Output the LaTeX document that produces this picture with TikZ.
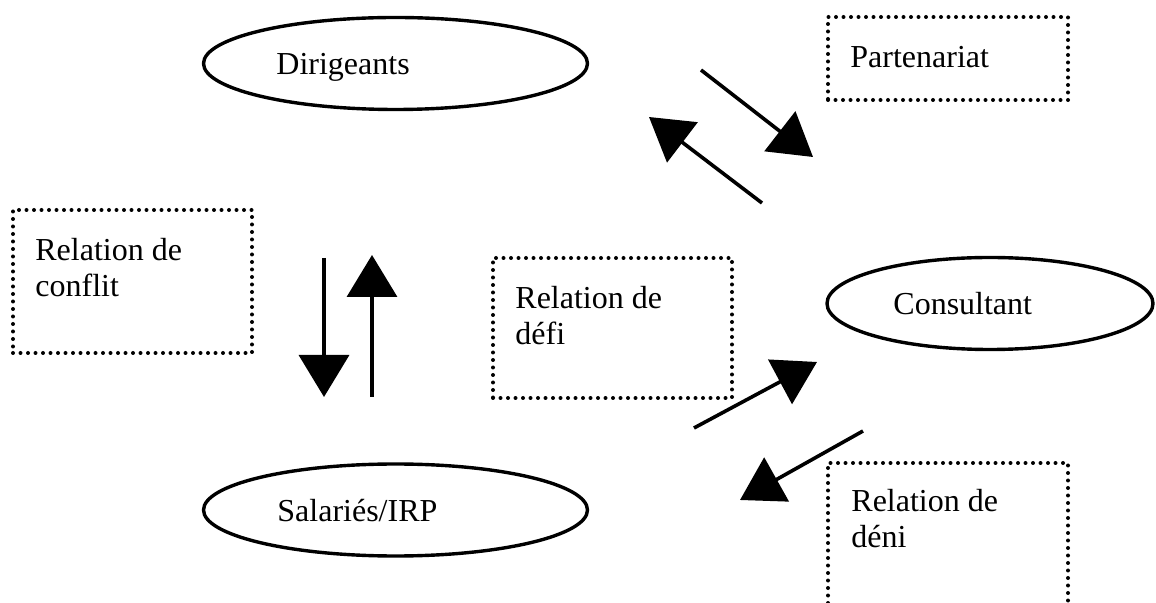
\documentclass[tikz,border=0pt]{standalone}
\usepackage{fontspec}
\setmainfont{Liberation Serif}
\usetikzlibrary{arrows.meta, shapes.geometric}
\tikzset{%
	every actor/.style={
		ellipse,
		draw,
		line width=1.7pt,
		inner sep=0pt
	},
	relation box/.style={
		draw,
		line width=2pt,
		line cap=round,
		dash pattern=on 0pt off 3.75pt,
		inner sep=0pt
	},
	label text/.style={
		anchor=base west,
		inner sep=0pt,
		align=left,
		font=\fontsize{16}{18.3}\selectfont
	},
	big arrow/.style={
		line width=1.8pt,
		-{Triangle[length=21pt, width=25pt]}
	},
}
\begin{document}
\begin{tikzpicture}[x=0.5pt, y=-0.5pt]
			\useasboundingbox (0,0) rectangle (1156,603);
			
			% actors
			\node [every actor, minimum width=192pt, minimum height=46pt] (dirigeants) at (395.5,63.5) {};
			\node [every actor, minimum width=192pt, minimum height=46pt] (salaries) at (395.5,510) {};
			\node [every actor, minimum width=163pt, minimum height=46pt] (consultant) at (990,303.5) {};
			\node [label text] (dirigeants-text) at (276,75) {Dirigeants};
			\node [label text] (salaries-text) at (277,522) {Salariés/IRP};
			\node [label text] (consultant-text) at (893,315) {Consultant};
			
			% relations (base of the last line)
			\node [relation box, minimum width=119.5pt, minimum height=71.5pt] (conflit) at (132.5,281.5) {};
			\node [relation box, minimum width=120pt, minimum height=41.5pt] (partenariat) at (948,58.5) {};
			\node [relation box, minimum width=119.5pt, minimum height=70pt] (defi) at (612.5,328) {};
			\node [relation box, minimum width=120pt, minimum height=80pt] (deni) at (948,543) {};
			\node [label text] (conflit-text) at (35,297) {Relation de\\conflit};
			\node [label text] (partenariat-text) at (850,68) {Partenariat};
			\node [label text] (defi-text) at (515,345) {Relation de\\défi};
			\node [label text] (deni-text) at (851,548) {Relation de\\déni};
			
			% arrows
			\coordinate (tail-1) at (701,70);   \coordinate (tip-1) at (813,157);
			\coordinate (tail-2) at (762,203);  \coordinate (tip-2) at (649,117);
			\coordinate (tail-3) at (324,258);  \coordinate (tip-3) at (324,397);
			\coordinate (tail-4) at (372,397);  \coordinate (tip-4) at (372,255);
			\coordinate (tail-5) at (694,428);  \coordinate (tip-5) at (817,362);
			\coordinate (tail-6) at (863,431);  \coordinate (tip-6) at (740,500);
			
			\foreach \i in {1,...,6}
			\draw [big arrow] (tail-\i) -- (tip-\i);
			
		\end{tikzpicture}
\end{document}
